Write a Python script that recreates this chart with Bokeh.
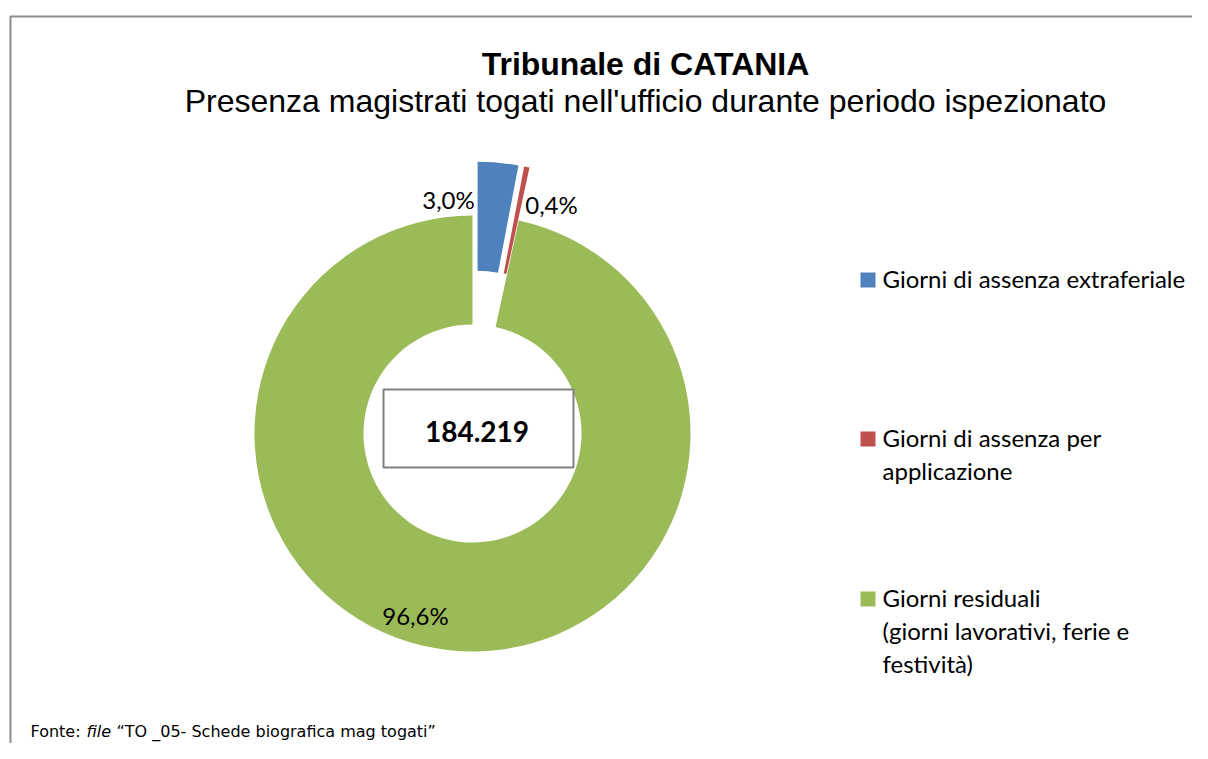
import math
from bokeh.plotting import figure
from bokeh.models import Range1d, ColumnDataSource
from bokeh.core.properties import value
from bokeh.embed import file_html
from bokeh.resources import INLINE

# ---------------- data ----------------
categories = [
    ["Giorni di assenza extraferiale"],
    ["Giorni di assenza per", "applicazione"],
    ["Giorni residuali", "(giorni lavorativi, ferie e", "festività)"],
]
percentages = [3.0, 0.4, 96.6]
label_texts = ["3,0%", "0,4%", "96,6%"]
exploded = [True, True, False]
total_label = "184.219"
title_text = "Tribunale di CATANIA"
subtitle_text = "Presenza magistrati togati nell'ufficio durante periodo ispezionato"
source_parts = ["Fonte:", "file", "\u201cTO _05- Schede biografica mag togati\u201d"]
source_italic = [False, True, False]
colors = ["#4F81BD", "#C0504D", "#9BBB59"]

# ---------------- layout ----------------
W, H = 1192, 743


def X(sx):
    return sx


def Y(sy):
    return H - sy


def BL(sy, size):
    # baseline correction for text rendering
    return Y(sy - 0.35 * size)


p = figure(width=W, height=H, x_range=Range1d(0, W), y_range=Range1d(0, H),
           output_backend="svg", toolbar_location=None, min_border=0,
           x_axis_type=None, y_axis_type=None)
p.xgrid.visible = False
p.ygrid.visible = False
p.outline_line_color = None
p.background_fill_color = "white"
p.border_fill_color = "white"

# chart frame (partially visible)
p.quad(left=[X(10)], right=[W + 50], bottom=[-50], top=[Y(16)],
       fill_color=None, line_color="#8c8c8c", line_width=2)

# donut
cx, cy = X(472), Y(433)
R_out, R_in = 218, 109
explode_dist = 54

xs, ys, starts, ends = [], [], [], []
cum = 0.0
tot = sum(percentages)
for v, ex in zip(percentages, exploded):
    a0 = math.pi / 2 - 2 * math.pi * cum / tot
    a1 = math.pi / 2 - 2 * math.pi * (cum + v) / tot
    mid = (a0 + a1) / 2
    d = explode_dist if ex else 0
    xs.append(cx + d * math.cos(mid))
    ys.append(cy + d * math.sin(mid))
    starts.append(a0)
    ends.append(a1)
    cum += v

src = ColumnDataSource(dict(x=xs, y=ys, start=starts, end=ends, color=colors))
p.annular_wedge(x="x", y="y", inner_radius=R_in, outer_radius=R_out,
                start_angle="start", end_angle="end", direction="clock",
                fill_color="color", line_color=None, source=src)

# data labels
lab_size = 24
label_pos = [(X(448), BL(207, lab_size)), (X(551), BL(212, lab_size)),
             (X(415), BL(623, lab_size))]
p.text(x=[lp[0] for lp in label_pos], y=[lp[1] for lp in label_pos], text=label_texts,
       text_font=value("Lato"), text_font_size=f"{lab_size}px", text_align="center",
       text_baseline="alphabetic", text_color="black")

# center box with total
p.quad(left=[cx - 89], right=[cx + 101], bottom=[cy - 34], top=[cy + 44],
       fill_color="white", line_color="#808080", line_width=2)
p.text(x=[cx + 4.5], y=[BL(441, 28)], text=[total_label], text_font=value("Lato"),
       text_font_size="28px", text_font_style="bold", text_align="center",
       text_baseline="alphabetic", text_color="black")

# titles
p.text(x=[X(645)], y=[BL(75, 32)], text=[title_text], text_font=value("Liberation Sans"),
       text_font_size="32px", text_font_style="bold", text_align="center",
       text_baseline="alphabetic", text_color="black")
p.text(x=[X(645)], y=[BL(112, 32)], text=[subtitle_text], text_font=value("Liberation Sans"),
       text_font_size="32px", text_align="center",
       text_baseline="alphabetic", text_color="black")

# legend
leg_size = 24
entry_top = [Y(272), Y(431), Y(591)]
first_base = [286, 445, 605]
line_h = 33
lx, ly, lt = [], [], []
for lines, b in zip(categories, first_base):
    for i, t in enumerate(lines):
        lx.append(X(882))
        ly.append(BL(b + i * line_h, leg_size))
        lt.append(t)
p.quad(left=[X(860)] * 3, right=[X(875)] * 3, top=entry_top,
       bottom=[t - 15 for t in entry_top], fill_color=colors, line_color=None)
p.text(x=lx, y=ly, text=lt, text_font=value("Lato"), text_font_size=f"{leg_size}px",
       text_align="left", text_baseline="alphabetic", text_color="black")

# source note
src_size = 16
src_x = [30, 86, 116]
for w, wx, it in zip(source_parts, src_x, source_italic):
    p.text(x=[X(wx)], y=[BL(737, src_size)], text=[w], text_font=value("DejaVu Sans"),
           text_font_size=f"{src_size}px", text_font_style="italic" if it else "normal",
           text_baseline="alphabetic", text_color="black")

open("out.html", "w").write(file_html(p, INLINE))
